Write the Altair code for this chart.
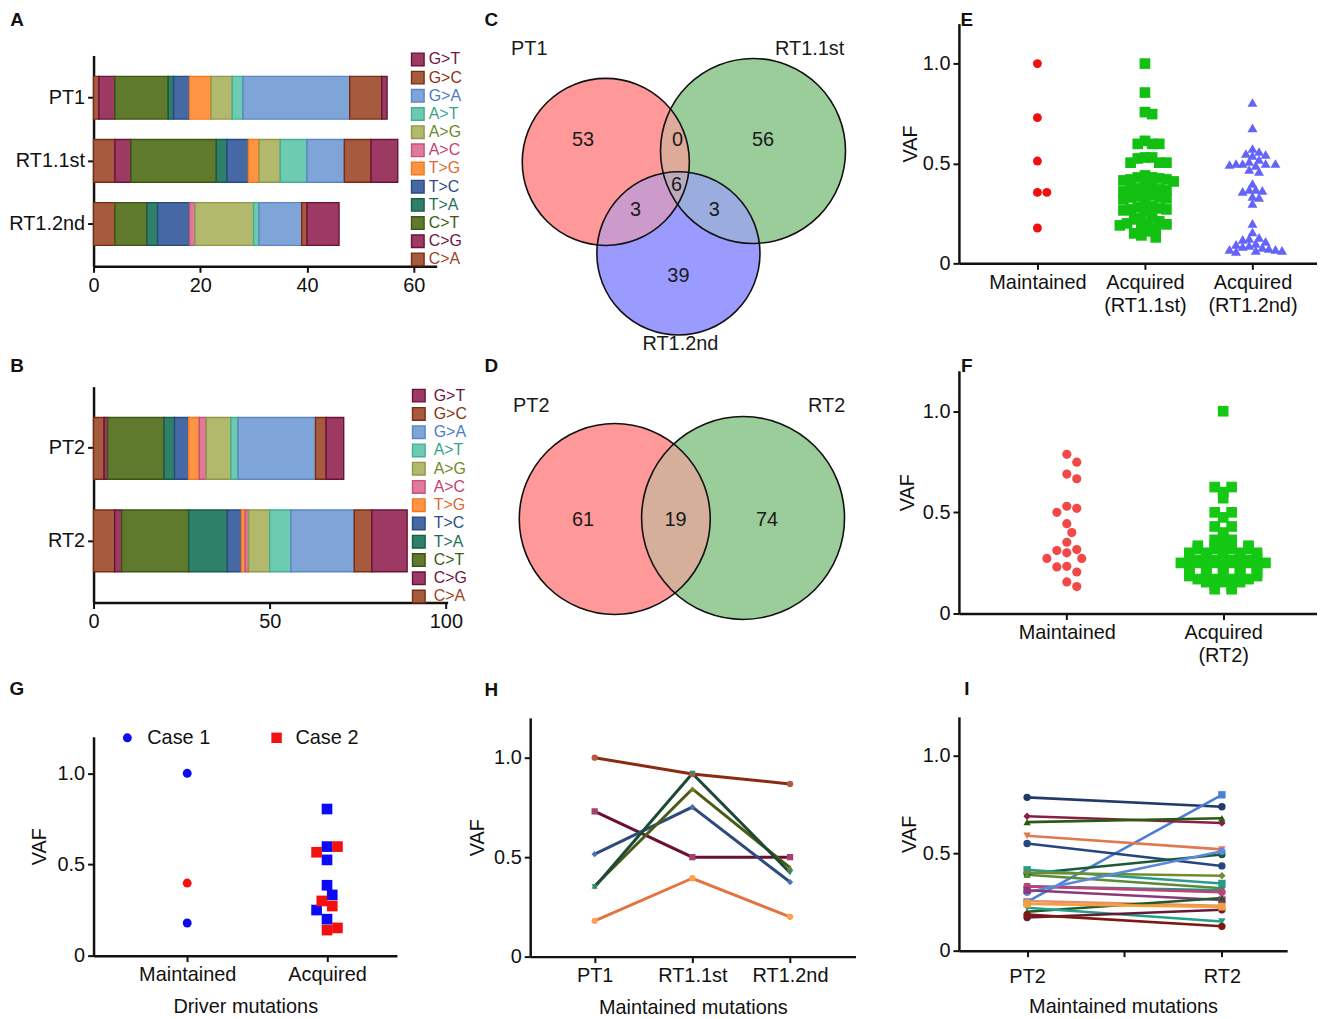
import math
import json
import altair as alt
import pandas as pd

FONT = "Liberation Sans"
INK = "#111111"

# ---------------- data: mutation spectra (A, B) ----------------
stack_order = ["C>A", "C>G", "C>T", "T>A", "T>C", "T>G", "A>C", "A>G", "A>T", "G>A", "G>C", "G>T"]
legend_order = stack_order[::-1]
fill_colors = ["#A65B3E", "#9C3A64", "#5F7A2C", "#2F8068", "#4668A4", "#FF9443",
               "#DF7A9A", "#B2B96D", "#6DCBB1", "#7FA4D7", "#A65B3E", "#9C3A64"]
stroke_colors = ["#7A2C14", "#6B1238", "#3D5412", "#1B5A45", "#284A80", "#F07A20",
                 "#C8507A", "#8F9846", "#45AE93", "#5A86C4", "#7A2C14", "#6B1238"]
text_colors = ["#A0441F", "#6E1440", "#3C5A14", "#1F6E55", "#2D4D86", "#E06A35",
               "#C9406F", "#6E8A2A", "#35A585", "#4A7CC4", "#8A3212", "#6E1440"]

samples_case1 = ["PT1", "RT1.1st", "RT1.2nd"]
counts_pt1 = [1, 3, 10, 1, 3, 4, 0, 4, 2, 20, 6, 1]
counts_rt1_1st = [4, 3, 16, 2, 4, 2, 0, 4, 5, 7, 5, 5]
counts_rt1_2nd = [4, 0, 6, 2, 6, 0, 1, 11, 1, 8, 1, 6]
samples_case2 = ["PT2", "RT2"]
counts_pt2 = [3, 1, 16, 3, 4, 3, 2, 7, 2, 22, 3, 5]
counts_rt2 = [6, 2, 19, 11, 4, 1, 1, 6, 6, 18, 5, 10]

# ---------------- data: Venn diagrams (C, D) ----------------
venn1_sets = ["PT1", "RT1.1st", "RT1.2nd"]
venn1_cx = [76, 224, 149]
venn1_cy = [139, 128, 231]
venn1_r = [84, 93, 82]
venn1_fill = ["#FF9999", "#9BCD9B", "#9B9BFF"]
venn1_name_x = [-1, 281, 151]
venn1_name_y = [26, 26, 322]
venn1_counts = ["53", "0", "56", "6", "3", "3", "39"]
venn1_count_x = [53, 148, 234, 147, 106, 185, 149]
venn1_count_y = [117, 117, 117, 162, 187, 187, 254]

venn2_sets = ["PT2", "RT2"]
venn2_cx = [85, 214]
venn2_cy = [149, 148]
venn2_r = [96, 102]
venn2_fill = ["#FF9999", "#9BCD9B"]
venn2_name_x = [1, 298]
venn2_name_y = [35, 35]
venn2_counts = ["61", "19", "74"]
venn2_count_x = [53, 146, 238]
venn2_count_y = [150, 150, 150]

# ---------------- data: VAF scatter (E, F, G) ----------------
e_maintained = [1.0, 0.729, 0.512, 0.355, 0.355, 0.177]
e_acq_rt1_1st = [1.0, 0.855, 0.757, 0.747, 0.613, 0.598, 0.598, 0.598, 0.53, 0.53,
                 0.525, 0.504, 0.504, 0.504, 0.44, 0.43, 0.43, 0.425, 0.42, 0.42,
                 0.415, 0.41, 0.39, 0.38, 0.375, 0.37, 0.37, 0.365, 0.36, 0.35,
                 0.34, 0.335, 0.33, 0.33, 0.325, 0.32, 0.30, 0.285, 0.28, 0.275,
                 0.27, 0.27, 0.265, 0.26, 0.24, 0.225, 0.22, 0.21, 0.20, 0.20,
                 0.195, 0.19, 0.18, 0.17, 0.16, 0.15, 0.14, 0.13]
e_acq_rt1_2nd = [0.805, 0.678, 0.575, 0.56, 0.55, 0.545, 0.54, 0.52, 0.51, 0.5,
                 0.5, 0.5, 0.5, 0.495, 0.49, 0.47, 0.46, 0.4, 0.37, 0.37,
                 0.365, 0.36, 0.335, 0.33, 0.3, 0.2, 0.157, 0.13, 0.125, 0.12,
                 0.11, 0.1, 0.095, 0.09, 0.085, 0.08, 0.075, 0.07, 0.07, 0.065,
                 0.065, 0.06]
e_labels = [["Maintained"], ["Acquired", "(RT1.1st)"], ["Acquired", "(RT1.2nd)"]]

f_maintained = [0.787, 0.748, 0.689, 0.666, 0.53, 0.52, 0.5, 0.444, 0.4, 0.352,
                0.316, 0.311, 0.3, 0.272, 0.272, 0.233, 0.23, 0.205, 0.156, 0.133]
f_acq_rt2 = [1.0, 0.625, 0.625, 0.60, 0.57, 0.50, 0.50, 0.475, 0.43, 0.43,
             0.40, 0.374, 0.364, 0.364, 0.35,
             0.335, 0.335, 0.335, 0.335, 0.32, 0.32, 0.32, 0.32,
             0.30, 0.30, 0.30, 0.30, 0.30, 0.28, 0.28, 0.28, 0.28, 0.28,
             0.265, 0.265, 0.265, 0.265, 0.25, 0.25, 0.25, 0.25, 0.25, 0.25,
             0.235, 0.235, 0.235, 0.235, 0.235, 0.22, 0.22, 0.22, 0.22, 0.22,
             0.20, 0.20, 0.20, 0.20, 0.20, 0.185, 0.185, 0.185, 0.185, 0.185,
             0.17, 0.17, 0.17, 0.17, 0.155, 0.155, 0.155, 0.14, 0.14, 0.12, 0.12]
f_labels = [["Maintained"], ["Acquired", "(RT2)"]]

g_maint_case1 = [1.0, 0.179]
g_maint_case2 = [0.398]
g_acq_case1 = [0.804, 0.598, 0.525, 0.386, 0.333, 0.25, 0.2]
g_acq_case2 = [0.598, 0.567, 0.3, 0.272, 0.152, 0.14]
g_labels = [["Maintained"], ["Acquired"]]

# ---------------- data: VAF lines (H, I) ----------------
h_labels = [["PT1"], ["RT1.1st"], ["RT1.2nd"]]
h_positions = [0, 1, 2]
h_pt1 = [1.0, 0.73, 0.515, 0.355, 0.35, 0.18]
h_rt1_1st = [0.918, 0.5, 0.752, 0.843, 0.921, 0.394]
h_rt1_2nd = [0.868, 0.5, 0.375, 0.447, 0.422, 0.2]
h_line_colors = ["#8B2A12", "#6A1035", "#2D4B7C", "#4B5B14", "#1C4A36", "#E27440"]
h_mark_colors = ["#B25A3C", "#A5406C", "#4A72B5", "#70812E", "#2C8B7A", "#FFA050"]
h_shapes = ["circle", "square", "diamond", "triangle-up", "triangle-down", "circle"]

i_labels = [["PT2"], [""], ["RT2"]]
i_positions = [0, 2]
i_pt2 = [0.787, 0.25, 0.69, 0.66, 0.59, 0.55, 0.395, 0.415, 0.40, 0.39,
         0.33, 0.33, 0.30, 0.31, 0.255, 0.20, 0.22, 0.17, 0.185, 0.24]
i_rt2 = [0.739, 0.80, 0.655, 0.68, 0.52, 0.435, 0.494, 0.345, 0.385, 0.32,
         0.31, 0.30, 0.51, 0.26, 0.23, 0.27, 0.15, 0.21, 0.125, 0.225]
i_line_colors = ["#1F3A6B", "#4A7FD4", "#8A1C48", "#2C5A10", "#E07850", "#25467E",
                 "#1E5A3A", "#2A9A8A", "#6F8E2A", "#5A8A3A", "#2F8F7F", "#C0407A",
                 "#5A8AD8", "#8A3A7A", "#E8906A", "#245A2A", "#22A08C", "#6A1838",
                 "#7A1A10", "#F5A040"]
i_shapes = ["circle", "diamond", "square", "triangle-up", "square", "diamond",
            "cross", "triangle-down", "triangle-up", "circle", "circle", "circle",
            "diamond", "square", "square", "triangle-up", "triangle-down", "circle",
            "circle", "circle"]


# ---------------- helpers ----------------
def mk_letter(t, x, y):
    return alt.Chart(pd.DataFrame({"t": [t]})).mark_text(
        font=FONT, fontSize=19, fontWeight="bold", color=INK, align="center", baseline="middle"
    ).encode(text="t:N", x=alt.value(x), y=alt.value(y))


def label_expr(labels):
    return json.dumps(labels) + "[round(datum.value)]"


def vaf_axis(tp):
    return alt.Axis(values=[0, 0.5, 1.0], labelExpr="datum.value == 0 ? '0' : format(datum.value, '.1f')",
                    title="VAF", titlePadding=tp, tickSize=6)


VAF_SCALE = alt.Scale(domain=[0, 1.2], nice=False, zero=True)


def swarm(vals, y_px, x_px, d):
    """Deterministic beeswarm: points closer than d pixels are pushed sideways."""
    order = sorted(range(len(vals)), key=lambda i: -vals[i])
    placed = []
    offs = [0.0] * len(vals)
    step = d * 0.5
    cands = [0.0]
    for j in range(1, 120):
        cands += [j * step, -j * step]
    for i in order:
        y = vals[i] * y_px
        chosen = 0.0
        for c in cands:
            if all((c - px) ** 2 + (y - py) ** 2 >= d * d for px, py in placed):
                chosen = c
                break
        placed.append((chosen, y))
        offs[i] = chosen / x_px
    return offs


def rows_layout(vals, x_px, sp):
    """Prism-like rows: equal values are spread evenly side by side around the centre."""
    offs = [0.0] * len(vals)
    groups = {}
    for i, v in enumerate(vals):
        groups.setdefault(v, []).append(i)
    for v, idx in groups.items():
        n = len(idx)
        for k, i in enumerate(idx):
            offs[i] = (k - (n - 1) / 2.0) * sp / x_px
    return offs


def spectrum(samples, counts, w, h, xmax, xticks, p_in, p_out, leg_dom, sq_x, tx_x, let, lx, ly):
    rows = []
    for s, cs in zip(samples, counts):
        for k, (m, c) in enumerate(zip(stack_order, cs)):
            if c > 0:
                rows.append({"sample": s, "mut": m, "n": c, "ord": k})
    df = pd.DataFrame(rows)
    fill = alt.Scale(domain=stack_order, range=fill_colors)
    strk = alt.Scale(domain=stack_order, range=stroke_colors)
    bars = alt.Chart(df).mark_bar(strokeWidth=1.4).encode(
        y=alt.Y("sample:N", sort=samples, scale=alt.Scale(paddingInner=p_in, paddingOuter=p_out),
                axis=alt.Axis(title=None, tickSize=6, labelPadding=3)),
        x=alt.X("n:Q", stack="zero", scale=alt.Scale(domain=[0, xmax], nice=False, zero=True),
                axis=alt.Axis(values=xticks, title=None, tickSize=6)),
        color=alt.Color("mut:N", scale=fill, legend=None),
        stroke=alt.Stroke("mut:N", scale=strk, legend=None),
        order=alt.Order("ord:Q"),
    )
    dleg = pd.DataFrame({"mut": legend_order, "pos": list(range(len(legend_order)))})
    ly_enc = alt.Y("pos:Q", scale=alt.Scale(domain=leg_dom, reverse=True, nice=False, zero=False), axis=None)
    sq = alt.Chart(dleg).mark_square(size=160, strokeWidth=1.4, opacity=1).encode(
        x=alt.value(sq_x), y=ly_enc,
        color=alt.Color("mut:N", scale=fill, legend=None),
        stroke=alt.Stroke("mut:N", scale=strk, legend=None))
    tx = alt.Chart(dleg).mark_text(font=FONT, fontSize=16, align="left", baseline="middle").encode(
        x=alt.value(tx_x), y=ly_enc, text="mut:N",
        color=alt.Color("mut:N", scale=alt.Scale(domain=stack_order, range=text_colors), legend=None))
    return alt.layer(bars, sq, tx, mk_letter(let, lx, ly)).resolve_scale(
        y="independent", color="independent", stroke="independent").properties(width=w, height=h)


def venn(sets, cx, cy, r, fills, opaque_order, overlays, name_x, name_y, counts, count_x, count_y,
         w, h, let, lx, ly):
    df = pd.DataFrame({"set": sets, "cx": cx, "cy": cy, "r": r})
    # Vega symbol size is the area of the symbol's bounding box
    df["box"] = (2 * df["r"]) ** 2
    xs = alt.X("cx:Q", scale=alt.Scale(domain=[0, w], nice=False, zero=False), axis=None)
    ys = alt.Y("cy:Q", scale=alt.Scale(domain=[0, h], nice=False, zero=False, reverse=True), axis=None)
    col = alt.Color("set:N", scale=alt.Scale(domain=sets, range=fills), legend=None)
    size = alt.Size("box:Q", scale=None)
    layers = []
    for nm in opaque_order:
        layers.append(alt.Chart(df[df["set"] == nm]).mark_point(
            shape="circle", filled=True, opacity=1, strokeWidth=0).encode(x=xs, y=ys, size=size, color=col))
    for nm, op in overlays:
        layers.append(alt.Chart(df[df["set"] == nm]).mark_point(
            shape="circle", filled=True, opacity=op, strokeWidth=0).encode(x=xs, y=ys, size=size, color=col))
    layers.append(alt.Chart(df).mark_point(shape="circle", filled=False, opacity=1, strokeWidth=1.6,
                                          color="#111111").encode(x=xs, y=ys, size=size))
    dn = pd.DataFrame({"t": sets, "cx": name_x, "cy": name_y})
    layers.append(alt.Chart(dn).mark_text(font=FONT, fontSize=20, color="#1a1a1a").encode(x=xs, y=ys, text="t:N"))
    dc = pd.DataFrame({"t": counts, "cx": count_x, "cy": count_y})
    layers.append(alt.Chart(dc).mark_text(font=FONT, fontSize=20, color="#1a1a1a").encode(x=xs, y=ys, text="t:N"))
    layers.append(mk_letter(let, lx, ly))
    return alt.layer(*layers).properties(width=w, height=h)


def scatter(groups, xdom, labels, w, h, tp, xtitle, let, lx, ly, extra=None):
    x_px = w / (xdom[1] - xdom[0])
    y_px = h / 1.2
    x_enc = alt.X("x:Q", scale=alt.Scale(domain=xdom, nice=False, zero=False),
                  axis=alt.Axis(values=list(range(len(labels))), labelExpr=label_expr(labels),
                                title=xtitle, titlePadding=12, labelOverlap=False,
                                labelLineHeight=23, tickSize=6))
    y_enc = alt.Y("vaf:Q", scale=VAF_SCALE, axis=vaf_axis(tp))
    cats = {}
    for g in groups:
        cats.setdefault(g["cat"], []).append(g)
    layers = []
    for cat, gl in cats.items():
        allv = []
        for g in gl:
            allv += g["vals"]
        if gl[0].get("rows"):
            offs = rows_layout(allv, x_px, gl[0]["rows"])
        else:
            offs = swarm(allv, y_px, x_px, gl[0]["d"])
        k = 0
        for g in gl:
            n = len(g["vals"])
            d = pd.DataFrame({"vaf": g["vals"], "x": [cat + o for o in offs[k:k + n]]})
            k += n
            layers.append(alt.Chart(d).mark_point(shape=g["shape"], size=g["size"], filled=True,
                                                  opacity=1, strokeWidth=0, color=g["color"]).encode(
                x=x_enc, y=y_enc))
    if extra:
        layers += extra
    layers.append(mk_letter(let, lx, ly))
    return alt.layer(*layers).properties(width=w, height=h)


def lines(series, positions, ids, line_colors, mark_colors, shapes, xdom, labels, w, h, tp, sw, msize,
          lpad, tpad, let, lx, ly):
    rows = []
    for xp, vals in zip(positions, series):
        for mid, v in zip(ids, vals):
            rows.append({"mut": mid, "x": xp, "vaf": v})
    df = pd.DataFrame(rows)
    x_enc = alt.X("x:Q", scale=alt.Scale(domain=xdom, nice=False, zero=False),
                  axis=alt.Axis(values=list(range(len(labels))), labelExpr=label_expr(labels),
                                title="Maintained mutations", titlePadding=tpad, labelPadding=lpad,
                                labelOverlap=False, tickSize=6))
    y_enc = alt.Y("vaf:Q", scale=VAF_SCALE, axis=vaf_axis(tp))
    ln = alt.Chart(df).mark_line(strokeWidth=sw).encode(
        x=x_enc, y=y_enc, color=alt.Color("mut:N", scale=alt.Scale(domain=ids, range=line_colors), legend=None))
    pt = alt.Chart(df).mark_point(filled=True, opacity=1, size=msize, strokeWidth=0).encode(
        x=x_enc, y=y_enc,
        color=alt.Color("mut:N", scale=alt.Scale(domain=ids, range=mark_colors), legend=None),
        shape=alt.Shape("mut:N", scale=alt.Scale(domain=ids, range=shapes), legend=None))
    return alt.layer(ln, pt, mk_letter(let, lx, ly)).resolve_scale(color="independent").properties(width=w, height=h)


# ---------------- panels ----------------
VENN_W = 369

A = spectrum(samples_case1, [counts_pt1, counts_rt1_1st, counts_rt1_2nd], 345, 212, 64.3, [0, 20, 40, 60],
             0.323, 0.331, [-0.219, 11.38], 326, 337, "A", -77, -36)
B = spectrum(samples_case2, [counts_pt2, counts_rt2], 356, 217, 100.5, [0, 50, 100],
             0.333, 0.333, [-0.49, 11.33], 327, 342, "B", -77, -21)

C = venn(venn1_sets, venn1_cx, venn1_cy, venn1_r, venn1_fill, ["RT1.1st", "RT1.2nd", "PT1"],
         [("RT1.2nd", 0.5), ("RT1.1st", 0.33)], venn1_name_x, venn1_name_y,
         venn1_counts, venn1_count_x, venn1_count_y, VENN_W, 329, "C", -39, -4)
D = venn(venn2_sets, venn2_cx, venn2_cy, venn2_r, venn2_fill, ["RT2", "PT2"],
         [("RT2", 0.42)], venn2_name_x, venn2_name_y,
         venn2_counts, venn2_count_x, venn2_count_y, VENN_W, 326, "D", -39, -5)

E = scatter([
    {"cat": 0, "vals": e_maintained, "shape": "circle", "size": 80, "color": "#F01010", "d": 9.5},
    {"cat": 1, "vals": e_acq_rt1_1st, "shape": "square", "size": 115, "color": "#12C012", "d": 7.2},
    {"cat": 2, "vals": e_acq_rt1_2nd, "shape": "triangle-up", "size": 100, "color": "#6464FA", "d": 6.6},
], [-0.73, 2.6], e_labels, 360, 241, 2, None, "E", 8, -4)

F = scatter([
    {"cat": 0, "vals": f_maintained, "shape": "circle", "size": 85, "color": "#F34848", "d": 10},
    {"cat": 1, "vals": f_acq_rt2, "shape": "square", "size": 115, "color": "#14C814", "rows": 17},
], [-0.69, 1.6], f_labels, 360, 244, 5, None, "F", 8, -5)

g_legend = [
    alt.Chart(pd.DataFrame({"t": ["Case 1"]})).mark_point(shape="circle", filled=True, size=80, opacity=1,
                                                          strokeWidth=0, color="#0A0AF5").encode(
        x=alt.value(34), y=alt.value(1)),
    alt.Chart(pd.DataFrame({"t": ["Case 1"]})).mark_text(font=FONT, fontSize=20, align="left", color=INK).encode(
        text="t:N", x=alt.value(54), y=alt.value(1)),
    alt.Chart(pd.DataFrame({"t": ["Case 2"]})).mark_point(shape="square", filled=True, size=110, opacity=1,
                                                          strokeWidth=0, color="#F51010").encode(
        x=alt.value(184), y=alt.value(1)),
    alt.Chart(pd.DataFrame({"t": ["Case 2"]})).mark_text(font=FONT, fontSize=20, align="left", color=INK).encode(
        text="t:N", x=alt.value(203), y=alt.value(1)),
]
G = scatter([
    {"cat": 0, "vals": g_maint_case1, "shape": "circle", "size": 80, "color": "#0A0AF5", "d": 10.5},
    {"cat": 0, "vals": g_maint_case2, "shape": "circle", "size": 80, "color": "#F51010", "d": 10.5},
    {"cat": 1, "vals": g_acq_case1, "shape": "square", "size": 115, "color": "#0A0AF5", "d": 10.5},
    {"cat": 1, "vals": g_acq_case2, "shape": "square", "size": 115, "color": "#F51010", "d": 10.5},
], [-0.67, 1.5], g_labels, 305, 220, 7, "Driver mutations", "G", -77, -48, extra=g_legend)

H = lines([h_pt1, h_rt1_1st, h_rt1_2nd], h_positions, ["h%d" % k for k in range(len(h_pt1))],
          h_line_colors, h_mark_colors, h_shapes, [-0.66, 2.67], h_labels, 327, 240, 6, 3, 40, 3, 12,
          "H", -39, -28)
I = lines([i_pt2, i_rt2], i_positions, ["i%d" % k for k in range(len(i_pt2))],
          i_line_colors, i_line_colors, i_shapes, [-0.70, 2.67], i_labels, 330, 235, 3, 2.6, 55, 10, 10,
          "I", 8, -28)

spacer = alt.Chart(pd.DataFrame({"t": [0]})).mark_point(opacity=0).encode(
    x=alt.value(0), y=alt.value(0)).properties(width=10, height=32)

col1 = alt.vconcat(spacer, alt.vconcat(A, alt.vconcat(B, G, spacing=135, bounds="flush"),
                                       spacing=121, bounds="flush"), spacing=0, bounds="flush")
col2 = alt.vconcat(C, alt.vconcat(D, H, spacing=23, bounds="flush"), spacing=20, bounds="flush")
col3 = alt.vconcat(E, alt.vconcat(F, I, spacing=104, bounds="flush"), spacing=108, bounds="flush")

chart = alt.hconcat(col1, col2, col3, spacing=0, bounds="full").properties(
    padding={"left": 0, "top": 0, "right": 0, "bottom": 0}
).configure_view(stroke=None).configure_axis(
    domainColor=INK, domainWidth=2.5, tickColor=INK, tickWidth=2, tickSize=6,
    labelFont=FONT, labelFontSize=20, labelColor=INK, labelPadding=3, labelFlush=False,
    titleFont=FONT, titleFontSize=20, titleFontWeight="normal", titleColor=INK, grid=False
)

chart.save("out.html", embed_options={"renderer": "svg", "actions": False})
